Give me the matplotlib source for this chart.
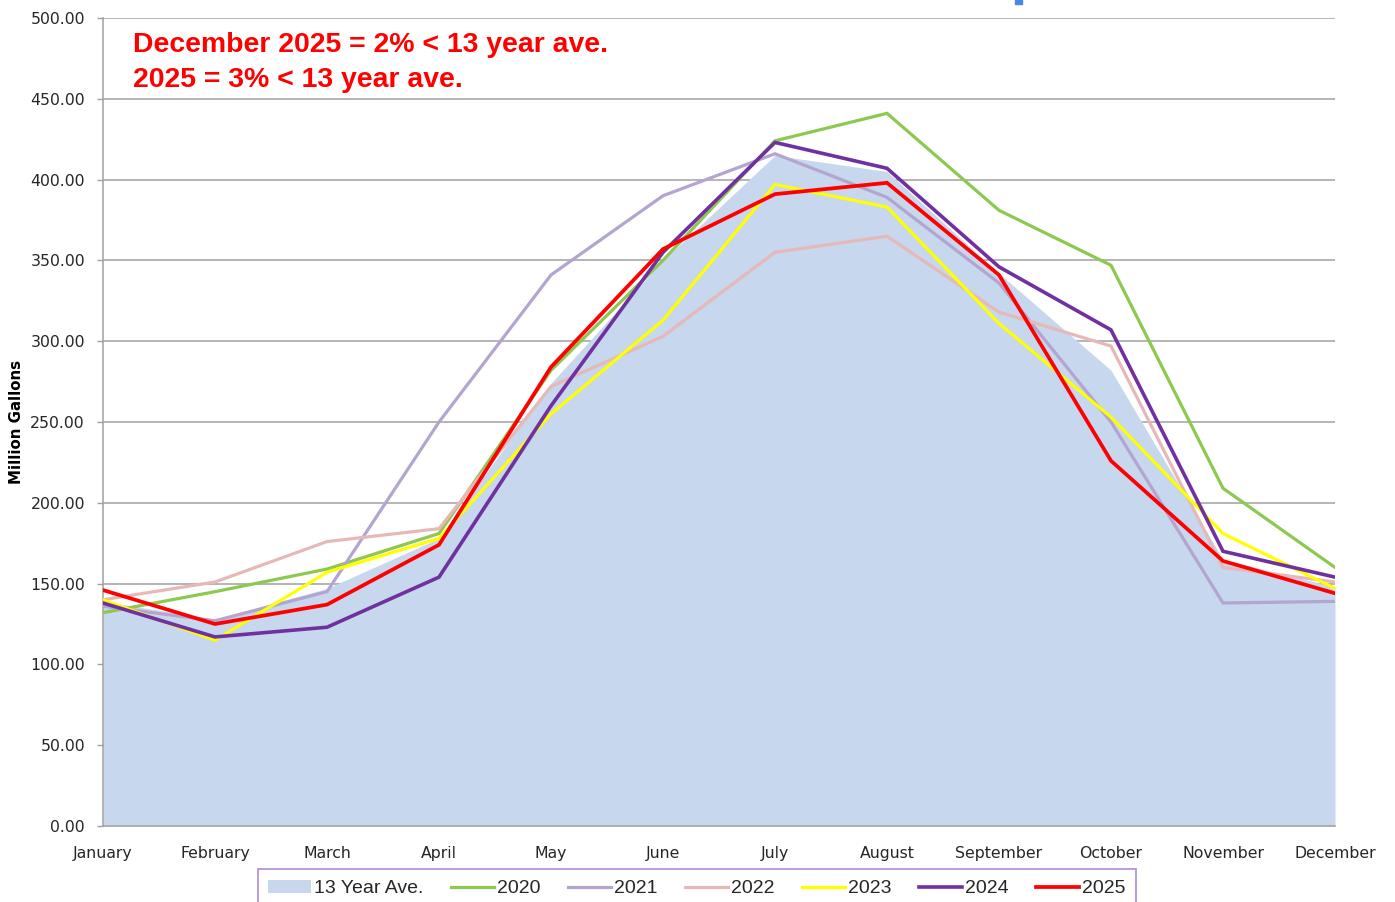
import matplotlib
matplotlib.use("Agg")
import matplotlib.pyplot as plt
import numpy as np
from matplotlib.patches import Rectangle

# monthly use, million gallons
months = ["January", "February", "March", "April", "May", "June",
          "July", "August", "September", "October", "November", "December"]
ave_13yr = [139, 128, 147, 178, 274, 350, 415, 405, 342, 282, 165, 148]
y2020 = [132, 145, 159, 181, 282, 350, 424, 441, 381, 347, 209, 160]
y2021 = [136, 127, 145, 250, 341, 390, 416, 389, 336, 250, 138, 139]
y2022 = [140, 151, 176, 184, 272, 303, 355, 365, 318, 297, 160, 151]
y2023 = [140, 115, 157, 178, 255, 313, 397, 383, 311, 253, 181, 147]
y2024 = [138, 117, 123, 154, 260, 355, 423, 407, 346, 307, 170, 154]
y2025 = [146, 125, 137, 174, 284, 357, 391, 398, 341, 226, 164, 144]

series = [
    ("2020", y2020, "#8DC850", 2.3),
    ("2021", y2021, "#B3A5CF", 2.3),
    ("2022", y2022, "#E6B9B8", 2.3),
    ("2023", y2023, "#FFFF00", 2.3),
    ("2024", y2024, "#7030A0", 2.6),
    ("2025", y2025, "#FF0000", 2.7),
]

W, H = 1395, 902
fig = plt.figure(figsize=(W / 100, H / 100), dpi=100)
ax = fig.add_axes([103 / W, 1 - 826 / H, (1335 - 103) / W, (826 - 18) / H])

x = np.arange(len(months))
ax.fill_between(x, 0, ave_13yr, color="#C6D7EE", lw=0, label="13 Year Ave.", zorder=2)
for name, vals, color, lw in series:
    ax.plot(x, vals, color=color, lw=lw, label=name, zorder=3,
            solid_joinstyle="miter")

ax.set_xlim(0, len(months) - 1)
ax.set_ylim(0, 500)
ax.set_yticks(np.arange(0, 501, 50))
ax.set_yticklabels([f"{v:.2f}" for v in np.arange(0, 501, 50)])
ax.set_xticks(x)
ax.set_xticklabels(months)
ax.grid(axis="y", color="#A0A0A0", lw=1.1, zorder=1)
ax.set_axisbelow(True)

for s in ["top", "right"]:
    ax.spines[s].set_visible(False)
ax.spines["left"].set_color("#A0A0A0")
ax.spines["bottom"].set_color("#A0A0A0")
ax.spines["left"].set_linewidth(1.1)
ax.spines["bottom"].set_linewidth(1.1)

ax.tick_params(axis="x", length=0, pad=14.5, labelsize=11.3, labelcolor="#262626")
ax.tick_params(axis="y", length=4, width=1, color="#A0A0A0", pad=9,
               labelsize=11.3, labelcolor="#262626")

fig.text(17 / W, 1 - 422 / H, "Million Gallons", rotation=90, ha="center",
         va="center", fontsize=10.8, fontweight="bold")

note_font = dict(family=["Liberation Sans", "DejaVu Sans"], fontweight="bold",
                 fontsize=20.4, color="#FF0000")
ax.text(133 / W, 1 - 52 / H, "December 2025 = 2% < 13 year ave.",
        transform=fig.transFigure, ha="left", va="baseline", **note_font)
ax.text(133 / W, 1 - 87 / H, "2025 = 3% < 13 year ave.",
        transform=fig.transFigure, ha="left", va="baseline", **note_font)

# clipped bit of a title at the very top
fig.patches.append(Rectangle((1015 / W, 1 - 4 / H), 7 / W, 4 / H,
                             transform=fig.transFigure, color="#4A86E8"))

leg = fig.legend(loc="upper center", bbox_to_anchor=(697 / W, 1 - 869 / H),
                 ncol=7, frameon=True, fancybox=False, handlelength=2.2,
                 handletextpad=0.15, columnspacing=1.43, borderpad=0.55,
                 borderaxespad=0,
                 prop={"family": ["Liberation Sans", "DejaVu Sans"], "size": 14})
leg.get_frame().set_edgecolor("#9A6FC8")
leg.get_frame().set_linewidth(1.2)
for t in leg.get_texts():
    t.set_color("#262626")

fig.savefig("out.png", dpi=100)
